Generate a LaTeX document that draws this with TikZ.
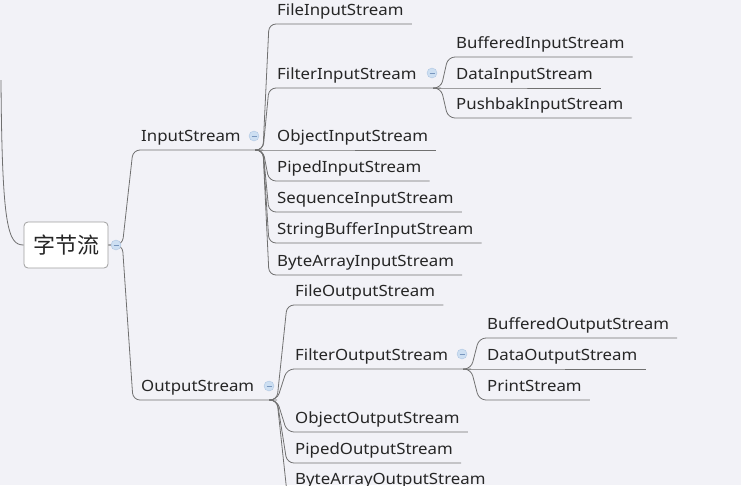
\documentclass[tikz,border=0pt]{standalone}
\usepackage{fontspec}
\setmainfont{Noto Sans}[FakeStretch=1.085]
\newfontfamily\cjk{Noto Sans CJK SC}
\usetikzlibrary{calc}
\definecolor{bg}{RGB}{242,242,247}
\definecolor{ln}{RGB}{112,112,112}
\definecolor{tx}{RGB}{38,38,38}
\definecolor{cf}{RGB}{205,223,242}
\definecolor{cd}{RGB}{175,198,226}
\definecolor{cm}{RGB}{120,150,190}
\begin{document}
\begin{tikzpicture}[x=1pt,y=-1pt,
  conn/.style={draw=ln, line width=0.8pt, rounded corners=7pt},
  item/.style={anchor=south west, inner xsep=8pt, inner ysep=0pt, text height=11pt, text depth=8pt, font=\fontsize{15.5}{18}\selectfont, text=tx},
  mcirc/.style={circle, draw=cd, fill=cf, minimum size=10pt, inner sep=0pt},
  minus/.style={draw=cm, line width=0.7pt}
]
\fill[bg] (0,0) rectangle (741,485);
\useasboundingbox (0,0) rectangle (741,485);
\clip (0,0) rectangle (741,485);

% root
\node[draw=gray!75, fill=white, rounded corners=4pt, minimum width=84pt, minimum height=46pt, font=\cjk\fontsize{22}{25}\selectfont, text=tx, line width=0.8pt] (root) at (66,245) {字节流};
\coordinate (up) at (1,80);

% level 1 nodes
\node[item] (is) at (133,150) {InputStream};
\node[item] (os) at (133,400) {OutputStream};
\coordinate (isb) at (263,150);
\coordinate (osb) at (277,400);

% InputStream children
\node[item] (fis) at (269,24) {FileInputStream};
\node[item] (fil) at (269,88) {FilterInputStream};
\node[item] (ois) at (269,150) {ObjectInputStream};
\node[item] (pis) at (269,181) {PipedInputStream};
\node[item] (sis) at (269,212) {SequenceInputStream};
\node[item] (sbis) at (269,243) {StringBufferInputStream};
\node[item] (bais) at (269,275) {ByteArrayInputStream};
\coordinate (filb) at (441,88);

% FilterInputStream children
\node[item] (bis) at (448,57) {BufferedInputStream};
\node[item] (dis) at (448,88) {DataInputStream};
\node[item] (pbis) at (448,118) {PushbakInputStream};

% OutputStream children
\node[item] (fos) at (287,305) {FileOutputStream};
\node[item] (flo) at (287,369) {FilterOutputStream};
\node[item] (oos) at (287,432) {ObjectOutputStream};
\node[item] (pos) at (287,463) {PipedOutputStream};
\node[item] (baos) at (287,493) {ByteArrayOutputStream};
\coordinate (flob) at (471,369);

% FilterOutputStream children
\node[item] (bos) at (479,338) {BufferedOutputStream};
\node[item] (dos) at (479,369) {DataOutputStream};
\node[item] (ps) at (479,400) {PrintStream};

% connectors
\draw[conn, rounded corners=0pt] (up) .. controls (2,228) and (8,245) .. (root.west);
\draw[conn] (root.east) -- ++(14,0) -- (is.south west) -- (isb);
\draw[conn] (root.east) -- ++(14,0) -- (os.south west) -- (osb);

\foreach \c in {fis,ois,pis,sis,sbis,bais}
  \draw[conn] ($(isb)+(-8,0)$) -- (isb) -- (\c.south west) -- (\c.south east);
\draw[conn] ($(isb)+(-8,0)$) -- (isb) -- (fil.south west) -- (filb);
\foreach \c in {bis,dis,pbis}
  \draw[conn] ($(filb)+(-8,0)$) -- (filb) -- (\c.south west) -- (\c.south east);

\foreach \c in {fos,oos,pos,baos}
  \draw[conn] ($(osb)+(-8,0)$) -- (osb) -- (\c.south west) -- (\c.south east);
\draw[conn] ($(osb)+(-8,0)$) -- (osb) -- (flo.south west) -- (flob);
\foreach \c in {bos,dos,ps}
  \draw[conn] ($(flob)+(-8,0)$) -- (flob) -- (\c.south west) -- (\c.south east);

% collapse markers
\foreach \n/\x/\y in {c0/116/245, c1/254/136, c2/432/73, c3/269/386, c4/462/354}{
  \node[mcirc] (\n) at (\x,\y) {};
  \draw[minus] ([xshift=-2.5pt]\n.center) -- ([xshift=2.5pt]\n.center);
}
\end{tikzpicture}
\end{document}
